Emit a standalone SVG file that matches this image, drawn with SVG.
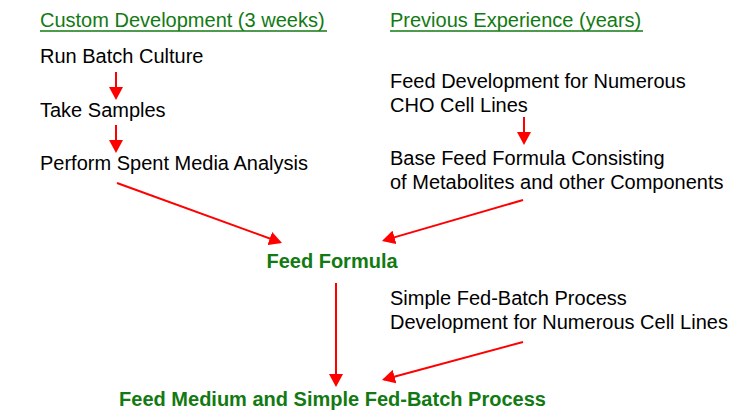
<svg xmlns="http://www.w3.org/2000/svg" width="732" height="412" viewBox="0 0 732 412">
  <style>
    text { font-family: "Liberation Sans", Arial, sans-serif; font-size: 20px; fill: #000; }
    .head { fill: #127a12; }
    .key { fill: #127a12; font-weight: bold; text-anchor: middle; }
    .rule { stroke: #127a12; stroke-width: 1.6; }
    .arrow { stroke: #ff0000; stroke-width: 2; fill: none; marker-end: url(#head); }
  </style>
  <defs>
    <marker id="head" viewBox="0 0 13 14" refX="11" refY="7" markerWidth="13" markerHeight="14" markerUnits="userSpaceOnUse" orient="auto">
      <path d="M0,0 L13,7 L0,14 z" fill="#ff0000"/>
    </marker>
  </defs>
  <rect width="732" height="412" fill="#ffffff"/>

  <!-- column headings -->
  <g id="heading-custom">
    <text class="head" x="40" y="27">Custom Development (3 weeks)</text>
    <line class="rule" x1="40" y1="31" x2="327" y2="31"/>
  </g>
  <g id="heading-previous">
    <text class="head" x="390" y="27">Previous Experience (years)</text>
    <line class="rule" x1="390" y1="31" x2="643" y2="31"/>
  </g>

  <!-- left column steps -->
  <g id="run-batch"><text x="40" y="63">Run Batch Culture</text></g>
  <g id="take-samples"><text x="40" y="117">Take Samples</text></g>
  <g id="spent-media"><text x="40" y="170">Perform Spent Media Analysis</text></g>

  <!-- right column steps -->
  <g id="feed-dev">
    <text x="390" y="88">Feed Development for Numerous</text>
    <text x="390" y="112">CHO Cell Lines</text>
  </g>
  <g id="base-feed">
    <text x="390" y="165">Base Feed Formula Consisting</text>
    <text x="390" y="189">of Metabolites and other Components</text>
  </g>
  <g id="fed-batch-dev">
    <text x="390" y="305">Simple Fed-Batch Process</text>
    <text x="390" y="329">Development for Numerous Cell Lines</text>
  </g>

  <!-- results -->
  <g id="feed-formula"><text class="key" x="332" y="268">Feed Formula</text></g>
  <g id="feed-medium"><text class="key" x="332.5" y="406">Feed Medium and Simple Fed-Batch Process</text></g>

  <!-- connectors -->
  <g id="connectors">
    <line class="arrow" x1="116" y1="72" x2="116" y2="98"/>
    <line class="arrow" x1="116" y1="125" x2="116" y2="151"/>
    <line class="arrow" x1="524" y1="117" x2="524" y2="143"/>
    <line class="arrow" x1="117" y1="183" x2="280.1" y2="242.3"/>
    <line class="arrow" x1="523" y1="200" x2="383.9" y2="240.4"/>
    <line class="arrow" x1="336" y1="283" x2="336" y2="385"/>
    <line class="arrow" x1="523" y1="342" x2="383.9" y2="379.5"/>
  </g>
</svg>
